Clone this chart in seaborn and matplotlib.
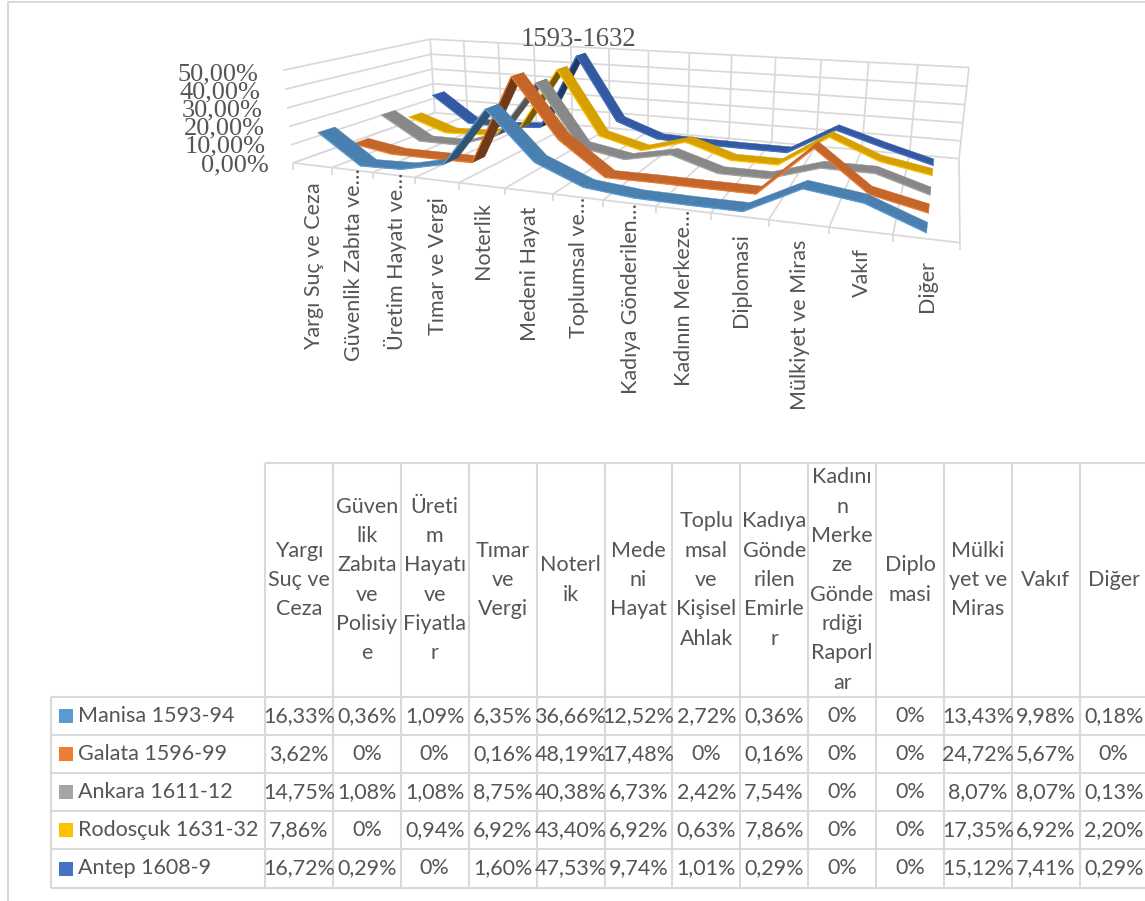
import numpy as np
import pandas as pd
import matplotlib
matplotlib.use("Agg")
import matplotlib.pyplot as plt
import seaborn as sns

# ---------- data ----------
categories_axis = ["Yargı Suç ve Ceza", "Güvenlik Zabıta ve…", "Üretim Hayatı ve…", "Tımar ve Vergi",
                   "Noterlik", "Medeni Hayat", "Toplumsal ve…", "Kadıya Gönderilen…",
                   "Kadının Merkeze…", "Diplomasi", "Mülkiyet ve Miras", "Vakıf", "Diğer"]
categories_table = [["Yargı", "Suç ve", "Ceza"], ["Güven", "lik", "Zabıta", "ve", "Polisiy", "e"],
                    ["Üreti", "m", "Hayatı", "ve", "Fiyatla", "r"], ["Tımar", "ve", "Vergi"],
                    ["Noterl", "ik"], ["Mede", "ni", "Hayat"], ["Toplu", "msal", "ve", "Kişisel", "Ahlak"],
                    ["Kadıya", "Gönde", "rilen", "Emirle", "r"],
                    ["Kadını", "n", "Merke", "ze", "Gönde", "rdiği", "Raporl", "ar"],
                    ["Diplo", "masi"], ["Mülki", "yet ve", "Miras"], ["Vakıf"], ["Diğer"]]
series_names = ["Manisa 1593-94", "Galata 1596-99", "Ankara 1611-12", "Rodosçuk 1631-32", "Antep 1608-9"]
manisa = [16.33, 0.36, 1.09, 6.35, 36.66, 12.52, 2.72, 0.36, 0, 0, 13.43, 9.98, 0.18]
galata = [3.62, 0, 0, 0.16, 48.19, 17.48, 0, 0.16, 0, 0, 24.72, 5.67, 0]
ankara = [14.75, 1.08, 1.08, 8.75, 40.38, 6.73, 2.42, 7.54, 0, 0, 8.07, 8.07, 0.13]
rodoscuk = [7.86, 0, 0.94, 6.92, 43.40, 6.92, 0.63, 7.86, 0, 0, 17.35, 6.92, 2.20]
antep = [16.72, 0.29, 0, 1.60, 47.53, 9.74, 1.01, 0.29, 0, 0, 15.12, 7.41, 0.29]
series_values = [manisa, galata, ankara, rodoscuk, antep]
z_ticks = [0, 10, 20, 30, 40, 50]
title = "1593-1632"

# ---------- styles ----------
legend_colors = ["#5B9BD5", "#ED7D31", "#A5A5A5", "#FFC000", "#4472C4"]
top_colors = ["#4A80B0", "#C4662A", "#888888", "#D6A100", "#3459A3"]
under_colors = ["#2F5573", "#6F3A18", "#555555", "#7A5C00", "#1F3864"]
GRID = "#D9D9D9"
TXT = "#555555"
SANS = "Lato"
SERIF = "Liberation Serif"
FS = 15.5

sns.set_theme(style="white")
plt.rcParams["font.family"] = [SANS, "DejaVu Sans"]

fig = plt.figure(figsize=(11.45, 9.01), dpi=100)
ax = fig.add_axes([0, 0, 1, 1])
ax.set_xlim(0, 1145)
ax.set_ylim(901, 0)
ax.axis("off")

# ---------- 3D -> pixel projection fitted on the plot box corners ----------
anchors = [((0, 0, 0), (293, 163)), ((13, 0, 0), (960, 243)), ((13, 5, 0), (959, 158)),
           ((0, 5, 0), (435, 113)), ((0, 0, 50), (283, 70)), ((0, 5, 50), (430, 39)),
           ((13, 5, 50), (969, 68)), ((7, 0, 0), (603, 200))]
A = []
for (u, s, z), (px, py) in anchors:
    A.append([u, s, z, 1, 0, 0, 0, 0, -px * u, -px * s, -px * z, -px])
    A.append([0, 0, 0, 0, u, s, z, 1, -py * u, -py * s, -py * z, -py])
P = np.linalg.svd(np.array(A, float))[2][-1].reshape(3, 4)


def proj(u, s, z):
    h = P @ np.array([u, s, z, 1.0])
    return h[0] / h[2], h[1] / h[2]


def seg(a, b, color=GRID, lw=1.25, zo=1):
    ax.plot([a[0], b[0]], [a[1], b[1]], color=color, lw=lw, zorder=zo, solid_capstyle="butt")


# walls and floor
for z in z_ticks:
    seg(proj(0, 0, z), proj(0, 5, z))
    seg(proj(0, 5, z), proj(13, 5, z))
for u in range(14):
    seg(proj(u, 0, 0), proj(u, 5, 0))
    seg(proj(u, 5, 0), proj(u, 5, 50))
    a = proj(u, 0, 0)
    seg(a, (a[0], a[1] + 7))
seg(proj(0, 0, 0), proj(13, 0, 0))

# ribbons, back to front
W = 0.25
for k in range(4, -1, -1):
    vals = series_values[k]
    s = k + 0.5
    for i in range(12):
        u0, u1 = i + 0.5, i + 1.5
        a = proj(u0, s - W, vals[i]); b = proj(u1, s - W, vals[i + 1])
        c = proj(u1, s + W, vals[i + 1]); d = proj(u0, s + W, vals[i])
        pts = np.array([a, b, c, d])
        x, y = pts[:, 0], pts[:, 1]
        area = 0.5 * np.sum(x * np.roll(y, -1) - np.roll(x, -1) * y)
        col = top_colors[k] if area < 0 else under_colors[k]
        ax.fill(x, y, color=col, lw=0.3, zorder=10 + (4 - k) * 10 + i * 0.1)
    front = np.array([proj(i + 0.5, s - W, v) for i, v in enumerate(vals)])
    df = pd.DataFrame({"px": front[:, 0], "py": front[:, 1]})
    sns.lineplot(data=df, x="px", y="py", sort=False, estimator=None, color=legend_colors[k],
                 lw=0.9, ax=ax, zorder=10 + (4 - k) * 10 + 1.5)
ax.set_xlim(0, 1145)
ax.set_ylim(901, 0)
ax.axis("off")

# axis labels
for z, (rx, cy) in zip(z_ticks, [(269, 165), (266, 146), (265, 128), (263, 110), (260, 92), (258, 74)]):
    ax.text(rx, cy, f"{z},00%", family=SERIF, fontsize=19, color=TXT, ha="right", va="center")
ax.text(578, 39, title, family=SERIF, fontsize=19.3, color=TXT, ha="center", va="center")

label_tops = [182, 168, 173, 197, 202, 207, 197, 203, 210, 233, 240, 248, 260]
for i, (lab, top) in enumerate(zip(categories_axis, label_tops)):
    cx = proj(i + 0.5, 0, 0)[0] + 1.5
    ax.text(cx, top, lab, rotation=90, fontsize=FS, color=TXT, ha="center", va="top")

# data table
edges = [265 + 67.9 * i for i in range(14)]
rows = [697, 735, 773, 811, 849, 888]
TOP = 463
for x in edges:
    seg((x, TOP), (x, rows[-1]), lw=1.5)
seg((51, rows[0]), (51, rows[-1]), lw=1.5)
seg((265, TOP), (1145, TOP), lw=1.5)
for y in rows:
    seg((51, y), (1145, y), lw=1.5)
seg((7.5, 2), (7.5, 901), lw=1.5)
seg((7, 2), (1145, 2), lw=1.5)
for j, lines in enumerate(categories_table):
    cx = edges[j] + 33.9
    y0 = (TOP + rows[0]) / 2 - (len(lines) - 1) * 29.3 / 2
    for n, t in enumerate(lines):
        ax.text(cx, y0 + n * 29.3, t, fontsize=FS, color=TXT, ha="center", va="center")


def fmt(v):
    return "0%" if v == 0 else f"{v:.2f}%".replace(".", ",")


for r, (name, vals) in enumerate(zip(series_names, series_values)):
    cy = (rows[r] + rows[r + 1]) / 2
    ax.add_patch(plt.Rectangle((59, cy - 7), 14, 14, color=legend_colors[r], lw=0))
    ax.text(78, cy, name, fontsize=FS, color=TXT, ha="left", va="center")
    for j, v in enumerate(vals):
        ax.text(edges[j] + 33.9, cy, fmt(v), fontsize=FS, color=TXT, ha="center", va="center")

fig.savefig("out.png", dpi=100)
